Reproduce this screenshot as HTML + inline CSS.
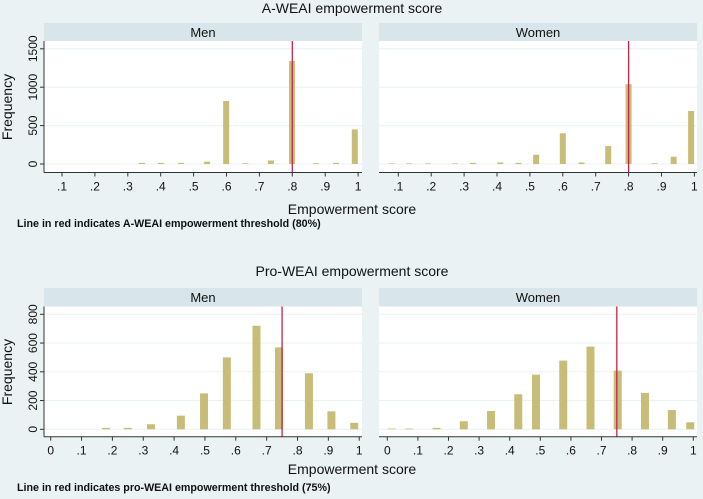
<!DOCTYPE html>
<html><head><meta charset="utf-8"><style>
body{margin:0;background:#eaf2f3;}
svg text{font-family:"Liberation Sans",Arial,sans-serif;fill:#111;}
</style></head><body>
<svg id="c" width="703" height="494" viewBox="0 0 703 494" xmlns="http://www.w3.org/2000/svg">
<rect width="703" height="494" fill="#eaf2f3"/>
<text x="352" y="13" text-anchor="middle" font-size="14">A-WEAI empowerment score</text>
<text x="352" y="214" text-anchor="middle" font-size="14">Empowerment score</text>
<text x="17" y="227" font-size="10.7" font-weight="bold">Line in red indicates A-WEAI empowerment threshold (80%)</text>
<text x="352" y="276" text-anchor="middle" font-size="14">Pro-WEAI empowerment score</text>
<text x="352" y="474" text-anchor="middle" font-size="14">Empowerment score</text>
<text x="17" y="491" font-size="10.7" font-weight="bold">Line in red indicates pro-WEAI empowerment threshold (75%)</text>
<text transform="translate(12,107) rotate(-90)" text-anchor="middle" font-size="14">Frequency</text>
<text transform="translate(12,372) rotate(-90)" text-anchor="middle" font-size="14">Frequency</text>
</svg>
<script>
// A-WEAI data
const aMenX=[.343,.401,.462,.541,.599,.657,.735,.799,.872,.933,.99];
const aMenY=[15,15,15,30,820,10,45,1340,10,15,450];
const aWomX=[.08,.133,.19,.272,.327,.41,.465,.519,.6,.657,.738,.8,.879,.937,.99];
const aWomY=[8,8,8,8,15,20,15,120,400,20,234,1040,10,95,690];
const aTicksX=[.1,.2,.3,.4,.5,.6,.7,.8,.9,1];
const aTickLabX=[".1",".2",".3",".4",".5",".6",".7",".8",".9","1"];
const aTicksY=[0,500,1000,1500];
const aThreshold=.8;
// Pro-WEAI data
const pMenX=[.179,.25,.325,.422,.497,.571,.667,.74,.837,.91,.984];
const pMenY=[10,10,35,95,250,500,720,570,390,125,45];
const pWomX=[.014,.071,.161,.25,.339,.428,.486,.575,.664,.753,.842,.93,.99];
const pWomY=[5,5,10,56,127,244,380,478,575,408,253,134,49];
const pTicksX=[0,.1,.2,.3,.4,.5,.6,.7,.8,.9,1];
const pTickLabX=["0",".1",".2",".3",".4",".5",".6",".7",".8",".9","1"];
const pTicksY=[0,200,400,600,800];
const pThreshold=.75;

const svg=document.getElementById('c');
const NS="http://www.w3.org/2000/svg";
function mk(tag,attrs,name){const e=document.createElementNS(NS,tag);for(const k in attrs)e.setAttribute(k,attrs[k]);


svg.appendChild(e);return e;}

function panel(o){
  const xs=v=>o.x0+(v-o.v0)*o.kx;
  const ys=v=>o.y0-v*o.ky;
  mk('rect',{x:o.left,y:o.stripTop,width:o.right-o.left,height:o.plotTop-o.stripTop,fill:'#d8e5ea'},o.id+'-strip');
  const t=mk('text',{x:(o.left+o.right)/2,y:o.stripTop+14,'text-anchor':'middle','font-size':13},o.id+'-strip-label');t.textContent=o.label;
  mk('rect',{x:o.left,y:o.plotTop,width:o.right-o.left,height:o.axisY-o.plotTop,fill:'#ffffff'},o.id+'-plot-area');
  o.ticksY.forEach(v=>{
    mk('line',{x1:o.left,x2:o.right,y1:ys(v),y2:ys(v),stroke:'#eaf2f3','stroke-width':1},o.id+'-gridline');
    if(o.showY){
      mk('line',{x1:o.left-4,x2:o.left,y1:ys(v),y2:ys(v),stroke:'#333'},o.id+'-y-tick');
      const l=mk('text',{transform:`translate(${o.left-7},${ys(v)}) rotate(-90)`,'text-anchor':'middle','font-size':12},o.id+'-y-tick-label');l.textContent=v;
    }
  });
  if(o.showY) mk('line',{x1:o.left,x2:o.left,y1:o.plotTop,y2:o.axisY,stroke:'#333'},o.id+'-y-axis');
  o.xs.forEach((v,i)=>{
    const h=o.ys[i]*o.ky;
    mk('rect',{x:xs(v)-o.bw/2,y:o.y0-h,width:o.bw,height:h,fill:'#c8bd78'},o.id+'-bar');
  });
  mk('line',{x1:xs(o.thr),x2:xs(o.thr),y1:o.plotTop,y2:o.axisY,stroke:'#c0264a','stroke-width':1.3},o.id+'-threshold-line');
  mk('line',{x1:o.left,x2:o.right,y1:o.axisY,y2:o.axisY,stroke:'#333'},o.id+'-x-axis');
  o.ticksX.forEach((v,i)=>{
    mk('line',{x1:xs(v),x2:xs(v),y1:o.axisY,y2:o.axisY+4,stroke:'#333'},o.id+'-x-tick');
    const l=mk('text',{x:xs(v),y:o.axisY+18,'text-anchor':'middle','font-size':12},o.id+'-x-tick-label');l.textContent=o.tickLab[i];
  });
}
// top row
panel({id:'aweai-men',label:'Men',left:44,right:362,stripTop:23,plotTop:41,axisY:172.5,x0:62,v0:.1,kx:329,y0:164,ky:0.0768,bw:6,xs:aMenX,ys:aMenY,ticksX:aTicksX,tickLab:aTickLabX,ticksY:aTicksY,thr:aThreshold,showY:true});
panel({id:'aweai-women',label:'Women',left:379,right:697,stripTop:23,plotTop:41,axisY:172.5,x0:398.3,v0:.1,kx:329,y0:164,ky:0.0768,bw:6,xs:aWomX,ys:aWomY,ticksX:aTicksX,tickLab:aTickLabX,ticksY:aTicksY,thr:aThreshold,showY:false});
// bottom row
panel({id:'proweai-men',label:'Men',left:44,right:362,stripTop:288,plotTop:306.5,axisY:436.7,x0:50.7,v0:0,kx:308.5,y0:429.3,ky:0.14375,bw:8,xs:pMenX,ys:pMenY,ticksX:pTicksX,tickLab:pTickLabX,ticksY:pTicksY,thr:pThreshold,showY:true});
panel({id:'proweai-women',label:'Women',left:379,right:697,stripTop:288,plotTop:306.5,axisY:436.7,x0:387.3,v0:0,kx:306,y0:429.3,ky:0.14375,bw:8,xs:pWomX,ys:pWomY,ticksX:pTicksX,tickLab:pTickLabX,ticksY:pTicksY,thr:pThreshold,showY:false});
</script>
</body></html>
